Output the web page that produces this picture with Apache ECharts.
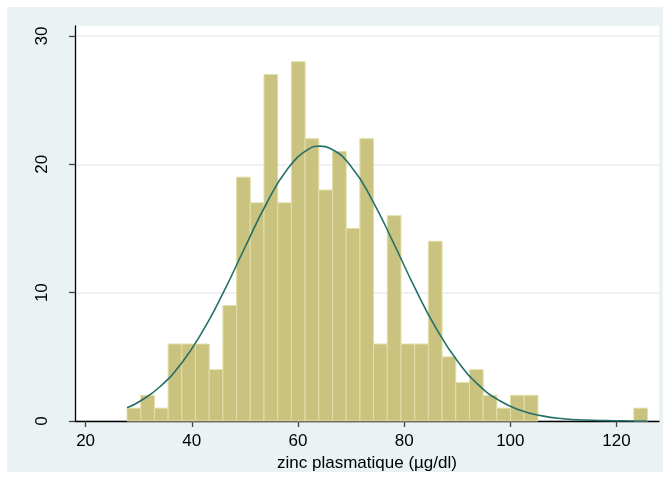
<!DOCTYPE html>
<html>
<head>
<meta charset="utf-8">
<script src="https://cdn.jsdelivr.net/npm/echarts@6/dist/echarts.min.js"></script>
<style>
html,body{margin:0;padding:0;background:#fff;}
#chart{width:670px;height:481px;}
</style>
</head>
<body>
<div id="chart"></div>
<script>
// Histogram data (bins of equal width starting at binStart)
var binStart = 27.8;
var binWidth = 2.58;
var counts = [1,2,1,6,6,6,4,9,19,17,27,17,28,22,18,21,15,22,6,16,6,6,14,5,3,4,2,1,2,2,0,0,0,0,0,0,0,1];

// Normal density overlay
var curveX = [27.8,30,34,38,42,46,50,54,58,62,64.2,66,70,74,78,82,86,90,94,98,102,106,110,114,118,122,125.8];
var curveY = [1.04,1.48,2.67,4.47,6.96,10.06,13.52,16.89,19.62,21.18,21.42,21.26,19.84,17.20,13.87,10.39,7.24,4.69,2.82,1.58,0.82,0.40,0.18,0.075,0.03,0.01,0.004];

var xTicks = [20,40,60,80,100,120];
var yTicks = [0,10,20,30];
var xTitle = 'zinc plasmatique (µg/dl)';

var barData = counts.map(function(c,i){
  return [binStart + i*binWidth, binStart + (i+1)*binWidth, c];
}).filter(function(d){ return d[2] > 0; });
var lineData = curveX.map(function(x,i){ return [x, curveY[i]]; });

var chart = echarts.init(document.getElementById('chart'), null, {renderer:'canvas'});
var font = 'Liberation Sans, Arial, sans-serif';
chart.setOption({
  animation:false,
  backgroundColor:'#ffffff',
  graphic:[{type:'rect', z:-10, silent:true, shape:{x:7,y:7,width:656,height:465}, style:{fill:'#eaf2f3'}}],
  grid:{left:75, top:26, right:11, bottom:60, show:true, backgroundColor:'#ffffff', borderWidth:0},
  xAxis:{
    type:'value', min:18, max:128,
    axisLine:{show:true, onZero:false, lineStyle:{color:'#000', width:1.3}},
    axisTick:{show:true, length:6, customValues:xTicks, lineStyle:{color:'#444', width:1.3}},
    axisLabel:{customValues:xTicks, color:'#000', fontSize:17, fontFamily:font, margin:12},
    splitLine:{show:false},
    name:xTitle, nameLocation:'middle', nameGap:28,
    nameTextStyle:{color:'#000', fontSize:17, fontFamily:font}
  },
  yAxis:{
    type:'value', min:0, max:30.78,
    axisLine:{show:true, lineStyle:{color:'#000', width:1.3}},
    axisTick:{show:true, length:6, customValues:yTicks, lineStyle:{color:'#444', width:1.3}},
    axisLabel:{customValues:yTicks, rotate:90, color:'#000', fontSize:17, fontFamily:font, margin:24},
    splitLine:{show:true, lineStyle:{color:'#e4edf0', width:1.5}}
  },
  series:[{
    type:'custom',
    data:barData,
    encode:{x:[0,1], y:2},
    renderItem:function(params, api){
      var p0 = api.coord([api.value(0), 0]);
      var p1 = api.coord([api.value(1), api.value(2)]);
      return {type:'rect', shape:{x:p0[0], y:p1[1], width:p1[0]-p0[0], height:p0[1]-p1[1]},
        style:{fill:'#cac27f', stroke:'#e3dea8', lineWidth:1}};
    },
    z:2
  },{
    type:'line', data:lineData, smooth:true, showSymbol:false,
    lineStyle:{color:'#23706a', width:1.6}, z:3
  }]
});
</script>
</body>
</html>
